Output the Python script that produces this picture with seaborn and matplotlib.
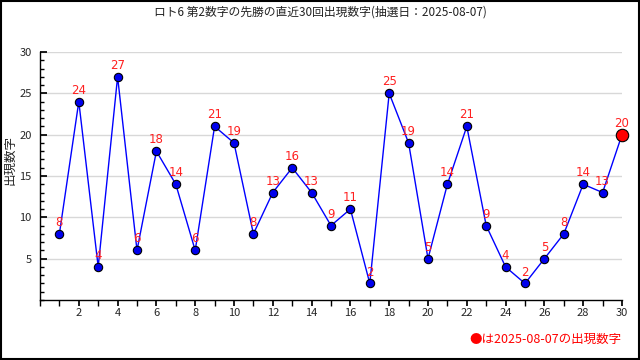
import matplotlib
matplotlib.use("Agg")
import matplotlib.pyplot as plt
import seaborn as sns
import pandas as pd
from matplotlib.ticker import MultipleLocator
from matplotlib.patches import Rectangle

draws = list(range(1, 31))
values = [8, 24, 4, 27, 6, 18, 14, 6, 21, 19, 8, 13, 16, 13, 9, 11, 2, 25, 19, 5,
          14, 21, 9, 4, 2, 5, 8, 14, 13, 20]
title = "ロト6 第2数字の先勝の直近30回出現数字(抽選日：2025-08-07)"
ylabel = "出現数字"
note = "●は2025-08-07の出現数字"

sns.set_theme(style="white")
plt.rcParams['font.family'] = ['Noto Sans CJK JP', 'DejaVu Sans']

df = pd.DataFrame({"draw": draws, "value": values})

fig = plt.figure(figsize=(6.4, 3.6), dpi=100)
ax = fig.add_axes([40/640, 1-300/360, 582/640, 248/360])

sns.lineplot(data=df, x="draw", y="value", ax=ax, color="#0000ff", linewidth=1,
             marker="o", markersize=6, markerfacecolor="#0000ee",
             markeredgecolor="black", markeredgewidth=0.8, clip_on=False)
last = df.iloc[[-1]]
sns.scatterplot(data=last, x="draw", y="value", ax=ax, color="#ff0000", s=80,
                edgecolor="black", linewidth=0.8, zorder=5, clip_on=False)

for d, v in zip(draws, values):
    ax.text(d, v + 0.6, str(v), color="#ff2020", fontsize=8.5, ha="center",
            va="bottom", family=['DejaVu Sans'])

ax.set_xlim(0, 30)
ax.set_ylim(0, 30)
ax.set_xticks(list(range(2, 31, 2)))
ax.xaxis.set_minor_locator(MultipleLocator(1))
ax.set_yticks([5, 10, 15, 20, 25, 30])
ax.yaxis.set_minor_locator(MultipleLocator(1))
ax.tick_params(axis="x", which="both", direction="out", length=4, labelsize=8,
               bottom=True, color="black", pad=2)
ax.tick_params(axis="y", which="major", direction="in", length=5, labelsize=8,
               left=True, color="black", pad=6)
ax.tick_params(axis="y", which="minor", direction="in", length=3, left=True,
               color="black")
ax.grid(axis="y", which="major", color="#d8d8d8", linewidth=1)
for s in ["top", "right"]:
    ax.spines[s].set_visible(False)
for s in ["left", "bottom"]:
    ax.spines[s].set_color("black")
    ax.spines[s].set_linewidth(1)
ax.set_xlabel("")
ax.set_ylabel(ylabel, fontsize=9)
ax.yaxis.set_label_coords(-0.04, 0.565)

fig.text(0.5, 1-12/360, title, ha="center", va="center", fontsize=8.5, color="#222222")
fig.text(622/640, 1-339/360, note, ha="right", va="center", fontsize=9, color="#ff0000")
fig.patches.append(Rectangle((0.001, 0.002), 0.997, 0.995, transform=fig.transFigure,
                             fill=False, edgecolor="black", linewidth=1.5))

fig.savefig("out.png", dpi=100, facecolor="white")
